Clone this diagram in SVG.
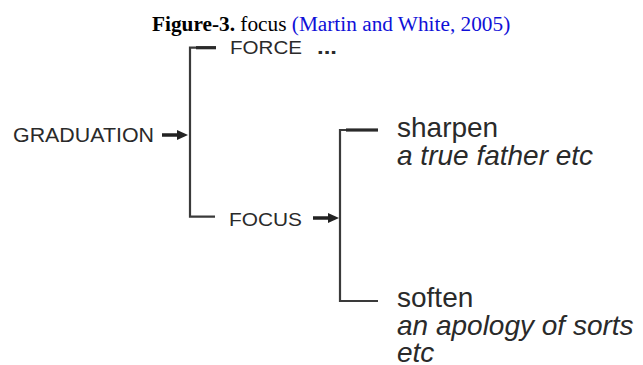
<svg xmlns="http://www.w3.org/2000/svg" width="643" height="365" viewBox="0 0 643 365">
<style>
.t{font-family:"Liberation Sans",Arial,sans-serif;fill:#2a2a2a}
.it{font-style:italic}
.ln{fill:none;stroke:#3a3a3a;stroke-width:2.2}
.tk{fill:none;stroke:#2a2a2a;stroke-width:3.2}
.sh{stroke:#222;stroke-width:3.5}
.hd{fill:#222}
.ti{font-family:"Liberation Serif","Times New Roman",serif;font-size:21.3px}
</style>
<rect width="643" height="365" fill="#fff"/>
<g id="title">
<text class="ti" x="152" y="31"><tspan font-weight="bold" fill="#000">Figure-3.</tspan><tspan fill="#000"> focus </tspan><tspan fill="#1010d8">(Martin and White, 2005)</tspan></text>
</g>
<g id="connectors">
<path class="ln" d="M216,47.7 H190 V216.7 H215"/>
<path class="tk" d="M216,47.7 H196"/>
<path class="ln" d="M378,130 H340 V301 H378"/>
<path class="tk" d="M378,130 H346"/>
<line class="sh" x1="162" y1="135" x2="180" y2="135"/>
<polygon class="hd" points="177,130 188,135 177,140"/>
<line class="sh" x1="313" y1="218" x2="330" y2="218"/>
<polygon class="hd" points="328,213 339,218 328,223"/>
</g>
<g id="graduation">
<text class="t" x="13" y="141.7" font-size="19.5" textLength="141" lengthAdjust="spacingAndGlyphs">GRADUATION</text>
</g>
<g id="force">
<text class="t" x="230" y="54.3" font-size="17.5" textLength="72" lengthAdjust="spacingAndGlyphs">FORCE</text>
<text class="t" x="317" y="54.3" font-size="21" font-weight="bold" textLength="20" lengthAdjust="spacingAndGlyphs">...</text>
</g>
<g id="focus">
<text class="t" x="229" y="226" font-size="18.5" textLength="73" lengthAdjust="spacingAndGlyphs">FOCUS</text>
</g>
<g id="sharpen">
<text class="t" x="397" y="137" font-size="28">sharpen</text>
<text class="t it" x="397" y="165" font-size="28">a true father etc</text>
</g>
<g id="soften">
<text class="t" x="397" y="307" font-size="28">soften</text>
<text class="t it" x="397" y="335" font-size="28">an apology of sorts</text>
<text class="t it" x="397" y="362" font-size="28">etc</text>
</g>
</svg>
